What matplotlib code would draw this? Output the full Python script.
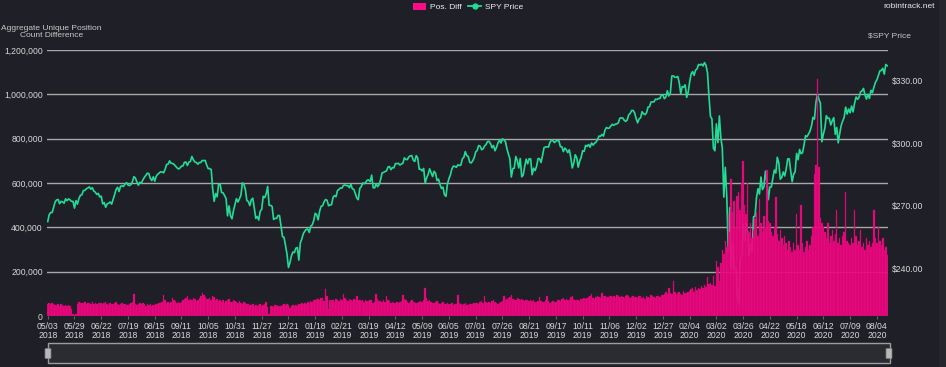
import matplotlib.pyplot as plt
from matplotlib.lines import Line2D
from matplotlib.patches import Patch, Rectangle, FancyBboxPatch

plt.rcParams['font.family'] = ['Liberation Sans', 'DejaVu Sans']

# one label every 18 data points
tick_labels = ['05/03\n2018', '05/29\n2018', '06/22\n2018', '07/19\n2018', '08/15\n2018',
               '09/11\n2018', '10/05\n2018', '10/31\n2018', '11/27\n2018', '12/21\n2018',
               '01/18\n2019', '02/21\n2019', '03/19\n2019', '04/12\n2019', '05/09\n2019',
               '06/05\n2019', '07/01\n2019', '07/26\n2019', '08/21\n2019', '09/17\n2019',
               '10/11\n2019', '11/06\n2019', '12/02\n2019', '12/27\n2019', '02/04\n2020',
               '03/02\n2020', '03/26\n2020', '04/22\n2020', '05/18\n2020', '06/12\n2020',
               '07/09\n2020', '08/04\n2020']

# aggregate unique position count difference, thousands
pos_diff = [
    52, 58, 55, 60, 54, 48, 50, 55, 47, 52, 49, 46, 50, 44, 48, 45, 30, 8,
    6, 10, 55, 62, 58, 60, 57, 63, 55, 60, 58, 52, 61, 56, 59, 54, 57, 60,
    57, 55, 60, 64, 52, 50, 58, 54, 56, 60, 62, 55, 49, 53, 58, 56, 52, 48,
    50, 55, 58, 62, 100, 54, 48, 52, 58, 56, 60, 52, 47, 55, 50, 53, 46, 50,
    48, 52, 55, 60, 58, 62, 95, 70, 60, 65, 58, 62, 80, 72, 66, 60, 64, 58,
    65, 70, 75, 80, 92, 72, 78, 70, 82, 75, 68, 72, 80, 88, 102, 96, 85, 78,
    75, 80, 72, 90, 85, 70, 78, 66, 72, 64, 70, 60, 68, 72, 76, 65, 62, 70,
    68, 62, 58, 66, 60, 55, 62, 58, 52, 56, 50, 48, 54, 46, 50, 44, 48, 52,
    45, 48, 52, 65, 40, 8, 44, 46, 42, 48, 50, 45, 43, 47, 50, 52, 48, 55,
    50, 38, 45, 48, 44, 50, 46, 55, 52, 58, 56, 60, 55, 62, 58, 66, 64, 70,
    72, 78, 75, 70, 80, 82, 68, 122, 90, 30, 74, 72, 70, 65, 78, 72, 68, 75,
    74, 98, 80, 72, 68, 75, 70, 66, 78, 72, 90, 74, 70, 68, 72, 65, 70, 68,
    66, 70, 72, 60, 64, 98, 75, 68, 66, 62, 70, 64, 90, 72, 66, 60, 63, 58,
    60, 64, 58, 62, 66, 95, 78, 70, 64, 60, 68, 72, 65, 62, 60, 58, 63, 66,
    62, 70, 125, 80, 66, 72, 64, 60, 58, 62, 66, 60, 55, 58, 62, 56, 52, 60,
    56, 54, 58, 48, 52, 55, 95, 60, 52, 50, 54, 57, 50, 48, 53, 56, 52, 58,
    60, 58, 55, 62, 66, 60, 88, 64, 58, 62, 60, 66, 70, 62, 58, 55, 60, 64,
    66, 90, 72, 75, 80, 85, 95, 78, 70, 74, 80, 76, 72, 78, 70, 68, 74, 70,
    68, 72, 66, 70, 64, 62, 68, 85, 66, 64, 62, 70, 88, 66, 60, 64, 68, 62,
    64, 70, 72, 68, 75, 80, 70, 78, 74, 72, 85, 88, 76, 70, 74, 72, 68, 75,
    78, 82, 76, 80, 85, 88, 100, 82, 78, 84, 90, 86, 80, 102, 88, 92, 84, 86,
    88, 92, 85, 90, 82, 95, 88, 84, 90, 86, 80, 92, 96, 88, 82, 86, 90, 84,
    86, 82, 90, 88, 80, 84, 78, 92, 86, 82, 96, 90, 85, 80, 88, 92, 84, 95,
    95, 100, 110, 98, 125, 105, 100, 160, 108, 96, 104, 110, 100, 95, 112, 106, 102, 110,
    115, 120, 125, 110, 130, 118, 128, 122, 135, 125, 140, 130, 175, 145, 150, 138, 180, 135,
    250, 220, 160, 240, 300, 280, 340, 310, 460, 380, 620, 470, 520, 400, 540, 560, 480, 600,
    700, 500, 460, 600, 380, 420, 350, 390, 440, 470, 360, 530, 420, 380, 450, 400, 660, 430,
    420, 380, 360, 400, 535, 370, 340, 390, 350, 320, 360, 330, 300, 340, 310, 290, 330, 300,
    460, 320, 300, 500, 330, 290, 310, 340, 300, 320, 360, 400, 640, 680, 1070, 670, 440, 420,
    400, 380, 350, 420, 330, 360, 390, 340, 370, 480, 330, 350, 320, 360, 380, 560, 340, 330,
    320, 350, 330, 480, 360, 320, 340, 390, 310, 330, 300, 350, 320, 340, 310, 330, 480, 350,
    330, 400, 340, 320, 350, 300, 310, 275,
]

spy_price = [
    262.6, 265.9, 266.9, 266.9, 269.5, 272.0, 272.9, 273.1, 271.1, 272.2, 272.0, 271.3, 273.4, 272.5, 273.4, 272.9, 272.2, 272.2,
    269.0, 272.6, 270.9, 273.6, 275.1, 275.3, 277.4, 277.4, 278.2, 278.6, 279.1, 278.0, 278.7, 277.1, 276.6, 275.5, 276.0, 274.3,
    274.7, 271.0, 271.6, 269.4, 271.0, 271.3, 271.9, 270.9, 273.1, 275.4, 277.9, 278.9, 276.9, 279.4, 279.6, 279.3, 280.5, 281.1,
    280.0, 279.7, 280.2, 281.6, 284.0, 283.3, 281.4, 279.9, 281.3, 280.9, 282.4, 283.6, 284.6, 285.6, 285.5, 283.2, 282.1, 283.9,
    281.8, 284.1, 285.1, 285.7, 286.3, 286.2, 285.8, 287.5, 289.8, 289.9, 291.5, 290.3, 290.3, 289.8, 289.0, 288.2, 287.6, 288.1,
    289.0, 289.1, 290.8, 290.9, 289.3, 290.9, 291.2, 293.6, 292.0, 291.0, 290.7, 289.9, 290.7, 290.7, 291.7, 291.6, 291.7, 289.4,
    287.8, 287.8, 287.4, 278.3, 272.2, 275.9, 274.4, 280.4, 280.5, 276.4, 276.3, 275.0, 273.6, 265.3, 270.1, 265.3, 263.9, 267.8,
    270.6, 273.5, 271.9, 273.4, 275.1, 281.0, 280.5, 277.8, 272.6, 272.1, 270.2, 273.0, 273.7, 269.1, 264.1, 265.0, 263.3, 267.5,
    268.4, 274.6, 274.0, 275.7, 279.3, 270.3, 270.3, 269.8, 263.6, 264.1, 264.1, 265.5, 265.4, 260.5, 255.4, 255.1, 251.3, 247.2,
    240.7, 243.0, 246.2, 248.1, 247.8, 249.9, 250.2, 244.2, 252.4, 254.4, 256.8, 258.0, 258.9, 259.0, 257.4, 260.4, 261.0, 263.0,
    266.5, 265.8, 263.4, 267.6, 269.9, 270.1, 272.0, 273.1, 272.7, 270.1, 270.5, 270.6, 274.1, 275.0, 274.4, 277.4, 277.9, 278.6,
    278.5, 279.8, 280.0, 279.7, 279.7, 278.7, 280.4, 278.2, 277.9, 275.9, 273.7, 273.0, 278.4, 279.2, 281.0, 280.6, 281.3, 282.3,
    282.4, 281.6, 284.7, 278.7, 278.6, 280.6, 279.2, 280.2, 282.5, 285.8, 286.0, 286.4, 286.7, 288.6, 288.8, 287.3, 288.3, 288.2,
    290.2, 290.2, 290.3, 289.5, 290.0, 290.3, 292.9, 292.2, 292.1, 293.4, 293.9, 294.0, 291.8, 291.2, 294.0, 292.8, 287.5, 287.5,
    286.7, 287.9, 280.9, 283.4, 285.1, 287.7, 285.8, 284.0, 286.5, 285.6, 282.1, 282.8, 280.2, 278.3, 279.0, 275.3, 274.6, 280.5,
    283.0, 284.8, 287.7, 289.0, 288.9, 288.4, 289.6, 289.3, 289.4, 292.4, 293.1, 295.9, 294.0, 293.6, 290.8, 290.5, 291.5, 293.0,
    295.7, 296.4, 298.8, 298.5, 296.8, 297.2, 298.6, 299.3, 300.7, 300.8, 299.7, 297.7, 298.8, 296.3, 297.9, 300.0, 301.4, 300.0,
    302.0, 301.5, 300.7, 297.4, 294.8, 292.6, 283.8, 287.8, 288.0, 293.6, 291.6, 288.1, 292.6, 283.9, 284.7, 288.9, 292.3, 290.1,
    292.5, 292.4, 284.9, 288.0, 286.9, 288.9, 292.6, 292.5, 290.7, 294.0, 297.8, 298.1, 298.2, 298.1, 300.3, 301.3, 301.1, 300.2,
    300.9, 301.1, 301.1, 298.3, 298.2, 295.9, 297.6, 296.8, 295.4, 296.8, 293.2, 288.1, 290.4, 294.4, 293.1, 288.5, 291.3, 293.2,
    296.3, 296.0, 298.9, 298.4, 299.3, 298.0, 300.0, 299.0, 299.9, 300.4, 301.6, 303.3, 303.2, 304.1, 303.3, 306.1, 307.4, 307.0,
    307.1, 308.2, 308.9, 308.4, 309.0, 309.1, 309.6, 311.8, 312.0, 311.9, 310.8, 310.3, 311.0, 313.4, 314.1, 315.5, 315.5, 314.3,
    311.6, 309.6, 311.5, 312.0, 314.9, 313.9, 313.5, 314.4, 317.1, 317.3, 319.5, 319.6, 319.6, 320.9, 320.7, 321.2, 321.2, 322.9,
    322.9, 321.1, 321.9, 324.9, 322.4, 323.6, 331.9, 332.0, 331.3, 331.3, 331.7, 328.8, 323.5, 326.9, 326.6, 327.7, 321.7, 324.1,
    329.1, 332.9, 334.0, 332.2, 334.7, 335.3, 337.4, 337.1, 337.6, 336.7, 338.3, 337.0, 333.5, 322.4, 312.7, 311.5, 297.5, 296.3,
    309.1, 300.2, 312.9, 302.5, 297.5, 274.2, 288.4, 274.4, 248.1, 269.3, 239.9, 252.8, 240.0, 240.5, 228.8, 223.0, 243.2, 246.8,
    261.2, 253.4, 261.7, 257.8, 246.2, 251.8, 248.2, 264.9, 265.1, 274.0, 278.2, 275.7, 283.8, 277.8, 279.1, 286.6, 281.6, 273.0,
    279.1, 279.1, 283.0, 287.1, 285.7, 293.2, 290.5, 282.8, 283.6, 286.2, 284.3, 287.7, 292.4, 292.5, 286.7, 281.6, 285.1, 286.3,
    295.0, 292.0, 296.9, 294.9, 295.4, 299.1, 303.5, 303.0, 304.3, 305.6, 308.1, 312.2, 311.4, 319.3, 323.2, 320.8, 319.0, 300.6,
    304.2, 307.1, 313.0, 311.7, 311.8, 308.6, 310.6, 312.1, 304.1, 307.4, 300.1, 304.5, 308.4, 310.5, 312.2, 317.1, 313.8, 316.2,
    314.4, 317.6, 314.8, 318.9, 321.9, 320.8, 321.7, 324.3, 324.8, 326.0, 323.0, 320.9, 323.2, 321.2, 325.1, 324.0, 326.5, 328.8,
    330.1, 332.1, 334.3, 334.6, 335.6, 332.8, 337.4, 336.8,
]

bg = '#1f2027'
pink = '#ff0a88'
green = '#22dc96'
txt = '#d8d8d8'

fig = plt.figure(figsize=(9.46, 3.67), dpi=100, facecolor=bg)
ax = fig.add_axes([47 / 946, 1 - 316 / 367, 841 / 946, 266 / 367], facecolor=bg)
ax2 = ax.twinx()

# SPY line sits under the bars
ax2.plot(range(len(spy_price)), spy_price, color=green, linewidth=1.2)
ax2.set_ylim(217.6, 344.3)
ax2.set_yticks([240, 270, 300, 330])
ax2.set_yticklabels([f'${v:.2f}' for v in [240, 270, 300, 330]])
ax2.tick_params(axis='y', colors=txt, labelsize=6.2, length=0, pad=3)

ax.set_zorder(ax2.get_zorder() + 1)
ax.patch.set_visible(False)
ax2.patch.set_facecolor(bg)
ax2.patch.set_visible(True)

x = list(range(len(pos_diff)))
ax.bar(x, [v * 1000 for v in pos_diff], width=1.0, color=pink, edgecolor='#c8006c',
       linewidth=0.25, alpha=0.9, zorder=2)
ax.set_xlim(-0.5, len(pos_diff) - 0.5)
ax.set_ylim(0, 1200000)
ax.set_yticks(range(0, 1200001, 200000))
ax.set_yticklabels(['0' if v == 0 else f'{v:,}' for v in range(0, 1200001, 200000)])
ax.set_xticks([18 * i for i in range(len(tick_labels))])
ax.set_xticklabels(tick_labels, linespacing=1.1)
ax.tick_params(axis='x', colors='#666666', labelcolor=txt, labelsize=6.2, length=2, pad=2)
ax.tick_params(axis='y', colors=txt, labelsize=6.2, length=0, pad=3)
for v in range(200000, 1200001, 200000):
    ax2.axhline(217.6 + (344.3 - 217.6) * v / 1200000, color='#a8a8a8', linewidth=1, zorder=0)
for a in (ax, ax2):
    for s in a.spines.values():
        s.set_visible(False)

fig.text(1 / 946, 1 - 32 / 367, 'Aggregate Unique Position\nCount Difference', ha='left', va='center',
         color='#c8c8c8', fontsize=6, linespacing=1.0, multialignment='center')
fig.text(889 / 946, 1 - 36 / 367, '$SPY Price', ha='center', va='center', color='#c8c8c8', fontsize=6)
fig.text(935 / 946, 1 - 7 / 367, 'robintrack.net', ha='right', va='center', color='#e8e8e8', fontsize=6)

handles = [Patch(facecolor=pink, edgecolor='none'),
           Line2D([], [], color=green, marker='o', markersize=3.5, linewidth=1.3)]
fig.legend(handles, ['Pos. Diff', 'SPY Price'], loc='center', bbox_to_anchor=(468 / 946, 1 - 7 / 367),
           ncol=2, frameon=False, fontsize=6, labelcolor='#f0f0f0', handlelength=1.6,
           handleheight=0.9, columnspacing=0.8, handletextpad=0.4)

# range slider under the chart
fig.patches.append(Rectangle((48 / 946, 1 - 363 / 367), 842 / 946, 20 / 367, transform=fig.transFigure,
                             facecolor='#2b2c31', edgecolor='#9c9c9c', linewidth=1))
for hx in [46, 887]:
    fig.patches.append(FancyBboxPatch((hx / 946, 1 - 358 / 367), 4 / 946, 9 / 367, transform=fig.transFigure,
                                      boxstyle='round,pad=0.001', facecolor='#b8b8b8', edgecolor='#888888',
                                      linewidth=0.5))
fig.patches.append(Rectangle((939 / 946, 0), 7 / 946, 1, transform=fig.transFigure,
                             facecolor='#26272c', edgecolor='none'))

plt.savefig('out.png', dpi=100, facecolor=bg)
